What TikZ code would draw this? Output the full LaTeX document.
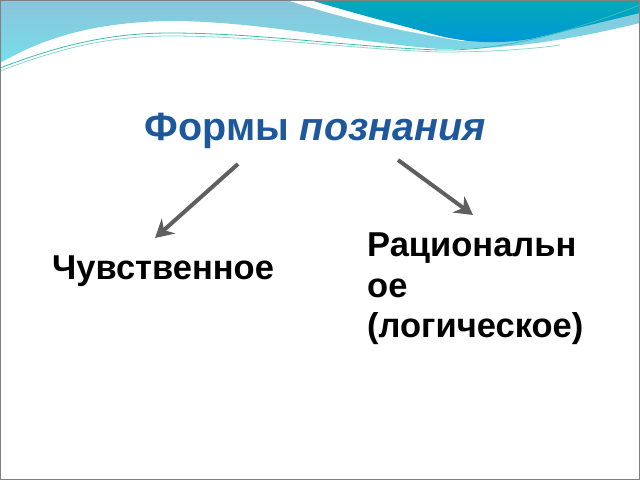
\documentclass[tikz,border=0pt]{standalone}
\usepackage{fontspec}
\setmainfont{Liberation Sans}
\usetikzlibrary{arrows.meta}
\definecolor{titleblue}{RGB}{28,88,155}
\definecolor{arrowgray}{RGB}{95,95,95}
\definecolor{lbtop}{RGB}{138,196,218}
\definecolor{lbbot}{RGB}{118,222,234}
\definecolor{dbtop}{RGB}{0,172,182}
\definecolor{dbbot}{RGB}{0,150,218}
\definecolor{tealline}{RGB}{60,190,175}
\definecolor{framegray}{RGB}{128,128,128}
\tikzset{
  bigtext/.style={font=\fontsize{34.5}{40.5}\selectfont\bfseries, inner sep=0pt},
  titletext/.style={font=\fontsize{39.5}{44}\selectfont\bfseries, inner sep=0pt, text=titleblue},
  linkarrow/.style={draw=arrowgray, line width=4pt, -{Stealth[length=18pt,width=20pt,inset=6pt]}},
  waveline/.style={draw=tealline, line width=0.8pt}
}
\begin{document}
\begin{tikzpicture}[x=1pt,y=-1pt]
\useasboundingbox (0,0) rectangle (640,480);
\fill[white] (0,0) rectangle (640,480);
% light blue band
\shade[top color=lbtop, bottom color=lbbot]
  (0,0) -- (640,0) -- (640,23)
  .. controls (590,35) and (520,50) .. (440,49)
  .. controls (350,42) and (260,21) .. (170,21)
  .. controls (90,22) and (40,40) .. (0,63) -- cycle;
% white gap above dark region
\fill[white] (287,0) .. controls (340,18) and (400,31) .. (462,41) -- (640,0) -- cycle;
% dark region
\shade[top color=dbtop, bottom color=dbbot]
  (310,0) .. controls (360,15) and (400,25) .. (440,36)
  .. controls (470,43) and (500,44) .. (530,39)
  .. controls (570,30) and (610,20) .. (640,13) -- (640,0) -- cycle;
% thin wave lines
\draw[waveline] (0,68) .. controls (60,45) and (110,33) .. (170,33)
  .. controls (260,33) and (350,47) .. (440,50)
  .. controls (510,51) and (580,28) .. (640,5);
\draw[waveline, draw opacity=0.6] (0,71) .. controls (60,48) and (110,36) .. (170,36)
  .. controls (260,36) and (350,49) .. (440,52)
  .. controls (500,52) and (540,48) .. (560,45);
% frame
\draw[framegray, line width=1pt] (0.5,0.5) rectangle (639.5,479.5);
% texts
\node[titletext, anchor=base] (title) at (315,140) {Формы \textit{познания}};
\node[bigtext, anchor=base west] (sens) at (52,279) {Чувственное};
\node[bigtext, anchor=north west, align=left] (rat) at (367,233) {Рациональн\\ое\\(логическое)};
% arrows
\coordinate (lstart) at (238,164);
\coordinate (lend) at (155,238);
\coordinate (rstart) at (398,160);
\coordinate (rend) at (473,215);
\draw[linkarrow] (lstart) -- (lend);
\draw[linkarrow] (rstart) -- (rend);
\end{tikzpicture}
\end{document}
